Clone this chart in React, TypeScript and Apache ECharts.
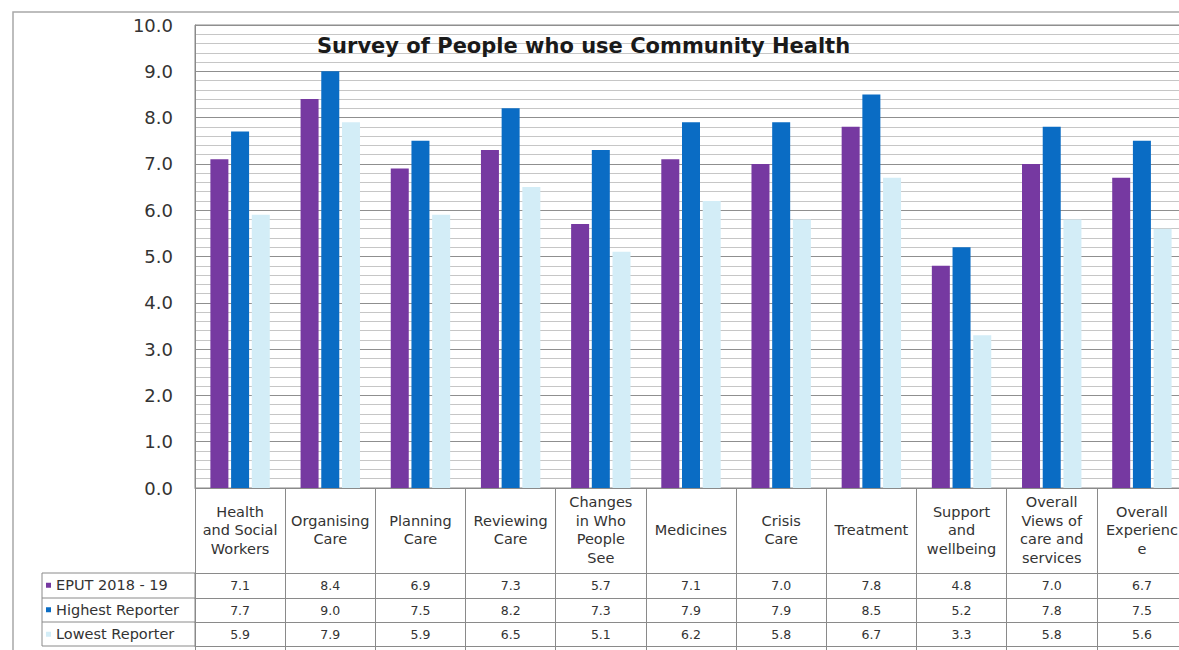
import React, { useEffect, useRef } from "react";
import * as echarts from "echarts";

const categories = [
  "Health\nand Social\nWorkers",
  "Organising\nCare",
  "Planning\nCare",
  "Reviewing\nCare",
  "Changes\nin Who\nPeople\nSee",
  "Medicines",
  "Crisis\nCare",
  "Treatment",
  "Support\nand\nwellbeing",
  "Overall\nViews of\ncare and\nservices",
  "Overall\nExperienc\ne",
];
const seriesNames = ["EPUT 2018 - 19", "Highest Reporter", "Lowest Reporter"];
const eput = [7.1, 8.4, 6.9, 7.3, 5.7, 7.1, 7.0, 7.8, 4.8, 7.0, 6.7];
const highest = [7.7, 9.0, 7.5, 8.2, 7.3, 7.9, 7.9, 8.5, 5.2, 7.8, 7.5];
const lowest = [5.9, 7.9, 5.9, 6.5, 5.1, 6.2, 5.8, 6.7, 3.3, 5.8, 5.6];
const seriesColors = ["#7639a1", "#0a6cc4", "#d3edf7"];
const titleText = "Survey of People who use Community Health";

export default function App() {
  const ref = useRef<HTMLDivElement>(null);
  useEffect(() => {
    const chart = echarts.init(ref.current!, undefined, { renderer: "svg" });
    const lineColor = "#8a8a8a";
    const font = "DejaVu Sans";
    const rowAxis = (offset: number, margin: number, values: number[] | null) => ({
      type: "category",
      gridIndex: 0,
      position: "bottom",
      offset,
      data: categories,
      axisLine: { show: true, lineStyle: { color: lineColor, width: 1 } },
      axisTick: { show: false },
      splitLine: { show: false },
      axisLabel: {
        show: !!values,
        interval: 0,
        margin,
        verticalAlign: "middle",
        fontSize: 12.5,
        fontFamily: font,
        color: "#333",
        formatter: (_v: string, i: number) => (values ? values[i].toFixed(1) : ""),
      },
    });
    const seriesData = [eput, highest, lowest];
    chart.setOption({
      animation: false,
      textStyle: { fontFamily: font },
      title: {
        text: titleText,
        left: 317,
        top: 35,
        padding: 0,
        textStyle: { fontSize: 21, fontWeight: "bold", color: "#1a1a1a", fontFamily: font },
      },
      legend: {
        orient: "vertical",
        left: 46,
        top: 573,
        padding: 0,
        itemGap: 0,
        itemWidth: 5,
        itemHeight: 5,
        icon: "rect",
        selectedMode: false,
        data: seriesNames,
        textStyle: { fontSize: 14.5, color: "#333", lineHeight: 24.5, fontFamily: font },
      },
      grid: {
        left: 195,
        top: 25,
        width: 992,
        height: 463,
        show: true,
        borderColor: "#8a8a8a",
        borderWidth: 1,
        backgroundColor: "transparent",
        containLabel: false,
        outerBoundsMode: "none",
      },
      yAxis: {
        type: "value",
        min: 0,
        max: 10,
        interval: 1,
        axisLine: { show: true, lineStyle: { color: lineColor } },
        axisTick: { show: false },
        axisLabel: {
          fontSize: 18,
          color: "#333",
          margin: 22,
          fontFamily: font,
          formatter: (v: number) => v.toFixed(1),
        },
        splitLine: { show: true, lineStyle: { color: "#8f8f8f", width: 1 } },
        minorTick: { show: false, splitNumber: 5 },
        minorSplitLine: { show: true, lineStyle: { color: "#c6c6c6", width: 1 } },
      },
      xAxis: [
        {
          type: "category",
          data: categories,
          position: "bottom",
          axisLine: { show: true, lineStyle: { color: lineColor, width: 1 } },
          axisTick: {
            show: true,
            alignWithLabel: false,
            interval: 0,
            length: 162,
            lineStyle: { color: lineColor, width: 1 },
          },
          axisLabel: {
            interval: 0,
            margin: 42,
            verticalAlign: "middle",
            fontSize: 14.5,
            lineHeight: 18.5,
            color: "#333",
            fontFamily: font,
          },
          splitLine: { show: false },
        },
        rowAxis(85, 12.5, eput),
        rowAxis(110, 12, highest),
        rowAxis(134, 12, lowest),
        rowAxis(158, 0, null),
      ],
      series: seriesNames.map((name, i) => ({
        name,
        type: "bar",
        xAxisIndex: 0,
        data: seriesData[i],
        barWidth: 18,
        barGap: "15%",
        itemStyle: { color: seriesColors[i] },
      })),
      graphic: [
        {
          type: "rect",
          silent: true,
          shape: { x: 13, y: 12, width: 1400, height: 800 },
          style: { fill: "none", stroke: "#a8a8a8", lineWidth: 1.5 },
        },
        {
          type: "rect",
          silent: true,
          shape: { x: 42, y: 573, width: 153, height: 73 },
          style: { fill: "none", stroke: lineColor, lineWidth: 1 },
        },
        {
          type: "line",
          silent: true,
          shape: { x1: 42, y1: 598, x2: 195, y2: 598 },
          style: { stroke: lineColor, lineWidth: 1 },
        },
        {
          type: "line",
          silent: true,
          shape: { x1: 42, y1: 622, x2: 195, y2: 622 },
          style: { stroke: lineColor, lineWidth: 1 },
        },
      ],
    });
    return () => chart.dispose();
  }, []);
  return (
    <div
      ref={ref}
      style={{ position: "fixed", left: 0, top: 0, width: 1179, height: 650, background: "#fff" }}
    />
  );
}
